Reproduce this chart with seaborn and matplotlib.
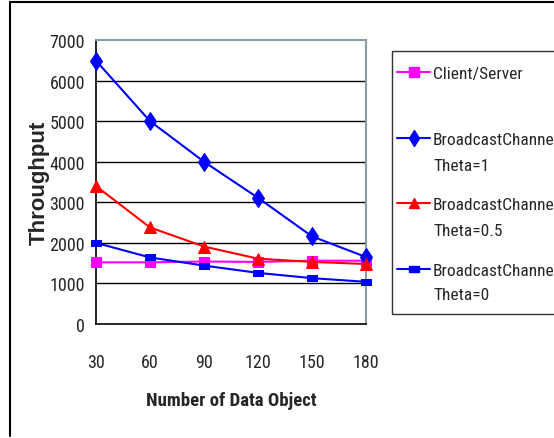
import matplotlib
matplotlib.use("Agg")
import matplotlib.pyplot as plt
from matplotlib.lines import Line2D
from matplotlib.patches import Rectangle
import seaborn as sns
import pandas as pd

# ---- data ----
x_values = [30, 60, 90, 120, 150, 180]
client_server = [1520, 1520, 1540, 1530, 1560, 1560]
bc_theta1 = [6490, 5000, 4000, 3110, 2160, 1650]
bc_theta05 = [3400, 2380, 1910, 1610, 1530, 1480]
bc_theta0 = [2000, 1640, 1440, 1260, 1130, 1040]
series_names = ["Client/Server", "BroadcastChannel Theta=1",
                "BroadcastChannel Theta=0.5", "BroadcastChannel Theta=0"]
legend_first = ["Client/Server", "BroadcastChannel", "BroadcastChannel", "BroadcastChannel"]
legend_second = ["", "Theta=1", "Theta=0.5", "Theta=0"]
y_ticks = [0, 1000, 2000, 3000, 4000, 5000, 6000, 7000]

rows = []
for name, vals in zip(series_names, [client_server, bc_theta1, bc_theta05, bc_theta0]):
    for xv, yv in zip(x_values, vals):
        rows.append({"x": xv, "y": yv, "series": name})
df = pd.DataFrame(rows)

sns.set_style("white")
FONT = ["Roboto Condensed", "DejaVu Sans"]
plt.rcParams["font.family"] = FONT

W, H = 554, 439
fig = plt.figure(figsize=(W / 100, H / 100), dpi=100)
ax = fig.add_axes([96 / W, 1 - 325 / H, 270 / W, 284 / H])

rect_marker = [(-1, -0.55), (1, -0.55), (1, 0.55), (-1, 0.55), (-1, -0.55)]
palette = {series_names[0]: "#FF00FF", series_names[1]: "#0000FF",
           series_names[2]: "#FF0000", series_names[3]: "#0000FF"}
markers = {series_names[0]: "s", series_names[1]: "d",
           series_names[2]: "^", series_names[3]: rect_marker}
msize = {series_names[0]: 7.5, series_names[1]: 9.5,
         series_names[2]: 8, series_names[3]: 7.5}

# horizontal grid
for yt in y_ticks[1:-1]:
    ax.axhline(yt, color="black", lw=1.0, zorder=0)

for name in series_names:
    sns.lineplot(data=df[df["series"] == name], x="x", y="y", ax=ax,
                 color=palette[name], marker=markers[name], markersize=msize[name],
                 markeredgecolor=palette[name], lw=1.5, legend=False, zorder=3,
                 clip_on=False)

ax.set_xlim(30, 180)
ax.set_ylim(0, 7000)
ax.set_xticks(x_values)
ax.set_yticks(y_ticks)
ax.tick_params(axis="both", direction="out", length=5, width=1.2, color="black",
               labelsize=13)
ax.tick_params(axis="x", pad=16)
ax.tick_params(axis="y", pad=3)
ax.set_xlabel("Number of Data Object", fontsize=13.5, fontweight="bold", labelpad=14,
              family=FONT)
ax.set_ylabel("Throughput", fontsize=16, fontweight="bold", labelpad=0,
              family=["Liberation Sans", "DejaVu Sans"])
for s in ["left", "bottom"]:
    ax.spines[s].set_color("black")
    ax.spines[s].set_linewidth(1.2)
for s in ["top", "right"]:
    ax.spines[s].set_color("#8a9ca4")
    ax.spines[s].set_linewidth(1.5)

# legend
handles = []
for name in series_names:
    handles.append(Line2D([], [], color=palette[name], marker=markers[name],
                          markersize=msize[name] * 0.9, lw=1.5,
                          markeredgecolor=palette[name]))
LFS = 12.5
fs = LFS * 100 / 72
leg = ax.legend(handles, legend_first, loc="upper left",
                bbox_to_anchor=(397 / W, 1 - 67 / H), bbox_transform=fig.transFigure,
                frameon=False, borderpad=0, borderaxespad=0, fontsize=LFS,
                handlelength=33 / fs, handletextpad=3 / fs, labelspacing=2.9)
leg.set_clip_on(False)
for txt, yy in zip(legend_second[1:], [167, 232, 296]):
    fig.text(433 / W, 1 - yy / H, txt, fontsize=LFS, va="center", ha="left")

fig.add_artist(Rectangle((392 / W, 1 - 315 / H), 200 / W, 263 / H,
                         transform=fig.transFigure, fill=False, ec="#333333", lw=1.0))
# outer frame
fig.add_artist(Line2D([10 / W, 10 / W], [1 - 437 / H, 1 - 3 / H],
                      transform=fig.transFigure, color="black", lw=1.5))
fig.add_artist(Line2D([10 / W, 1.0], [1 - 3 / H, 1 - 3 / H],
                      transform=fig.transFigure, color="black", lw=1.5))

fig.savefig("out.png", dpi=100)
